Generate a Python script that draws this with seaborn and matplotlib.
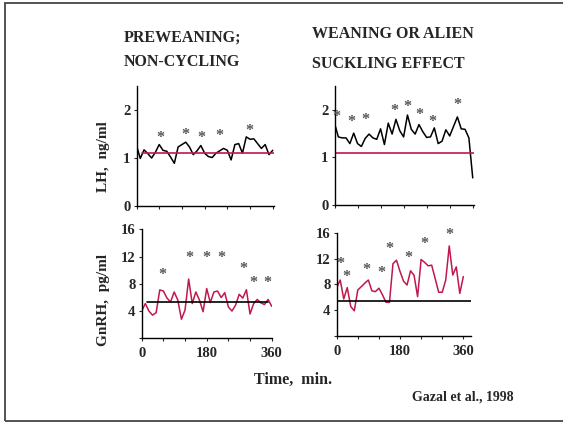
import matplotlib.pyplot as plt
import seaborn as sns
import numpy as np
import pandas as pd
from matplotlib.patches import Rectangle

# sampling times, min
time_min = np.arange(0, 370, 10)

# LH, ng/ml
lh_pre = [1.26, 0.99, 1.17, 1.09, 1.00, 1.12, 1.28, 1.16, 1.14, 1.02, 0.89, 1.23, 1.28,
          1.33, 1.23, 1.07, 1.15, 1.26, 1.10, 1.03, 1.01, 1.10, 1.15, 1.20, 1.16, 0.96,
          1.28, 1.30, 1.10, 1.44, 1.39, 1.40, 1.30, 1.20, 1.28, 1.07, 1.16]
lh_wean = [1.72, 1.43, 1.41, 1.41, 1.29, 1.51, 1.29, 1.23, 1.40, 1.49, 1.41, 1.38, 1.60,
           1.27, 1.72, 1.49, 1.80, 1.56, 1.43, 1.89, 1.59, 1.49, 1.69, 1.54, 1.42, 1.43,
           1.62, 1.29, 1.34, 1.58, 1.45, 1.65, 1.85, 1.60, 1.59, 1.41, 0.57]
# GnRH, pg/ml
gnrh_pre = [4.0, 5.1, 4.0, 3.4, 3.76, 7.1, 6.94, 5.9, 5.35, 6.8, 5.6, 2.8, 4.14, 8.7,
            5.1, 6.8, 5.6, 3.9, 7.3, 5.25, 6.8, 6.94, 5.98, 6.7, 4.6, 4.0, 4.87, 6.46,
            5.9, 7.13, 3.57, 5.1, 5.7, 5.2, 4.96, 5.7, 4.7]
gnrh_wean = [7.5, 8.67, 5.74, 7.5, 4.56, 3.9, 7.13, 7.64, 8.2, 8.67, 7.0, 6.87, 7.4, 6.4,
             5.23, 5.2, 11.2, 11.74, 10.0, 8.5, 7.9, 10.1, 9.4, 6.1, 11.85, 11.4, 10.87,
             10.97, 8.9, 6.77, 6.77, 8.67, 13.95, 9.44, 10.7, 6.6, 9.2]

# baseline (mean of control) lines: level, start, end
lh_base = 1.1
lh_base_span_pre = [15, 365]
lh_base_span_wean = [0, 362]
gnrh_base = 5.35
gnrh_base_span_pre = [16, 350]
gnrh_base_span_wean = [0, 381]

# significance asterisks (time, value)
star_lh_pre_t = [62, 130, 171, 220, 297]
star_lh_pre_v = [1.42, 1.47, 1.42, 1.45, 1.57]
star_lh_wean_t = [6, 44, 79, 155, 189, 220, 255, 319]
star_lh_wean_v = [1.85, 1.74, 1.79, 1.98, 2.05, 1.89, 1.75, 2.10]
star_gn_pre_t = [56, 132, 180, 220, 281, 310, 349]
star_gn_pre_v = [9.35, 11.76, 11.76, 11.76, 10.2, 8.14, 8.14]
star_gn_wean_t = [9, 27, 85, 126, 150, 204, 248, 320]
star_gn_wean_v = [11.08, 9.18, 10.2, 9.8, 13.4, 12.15, 14.3, 15.7]

RED = '#C0184C'
GREY = '#555555'

sns.set_style('ticks')
plt.rcParams['font.family'] = ['Liberation Serif', 'DejaVu Serif']
plt.rcParams['font.weight'] = 'bold'

fig = plt.figure(figsize=(5.63, 4.24), dpi=100)
W, H = 563.0, 424.0


def make_ax(x0, x1, y_bot, y_top):
    return fig.add_axes([x0 / W, 1 - y_bot / H, (x1 - x0) / W, (y_bot - y_top) / H])


ax_lh_pre = make_ax(136.5, 273.5, 206, 86)
ax_lh_wean = make_ax(334.5, 473.5, 205, 86)
ax_gn_pre = make_ax(141.7, 271.7, 338.3, 229.3)
ax_gn_wean = make_ax(336.7, 470.7, 336, 232.7)

panels = [
    (ax_lh_pre, lh_pre, 'black', lh_base, lh_base_span_pre, RED, star_lh_pre_t, star_lh_pre_v, (0, 2.5), [0, 1, 2], 362),
    (ax_lh_wean, lh_wean, 'black', lh_base, lh_base_span_wean, RED, star_lh_wean_t, star_lh_wean_v, (0, 2.5), [0, 1, 2], 362),
    (ax_gn_pre, gnrh_pre, RED, gnrh_base, gnrh_base_span_pre, 'black', star_gn_pre_t, star_gn_pre_v, (0, 16), [0, 4, 8, 12, 16], 360),
    (ax_gn_wean, gnrh_wean, RED, gnrh_base, gnrh_base_span_wean, 'black', star_gn_wean_t, star_gn_wean_v, (0, 16), [0, 4, 8, 12, 16], 381),
]

for ax, vals, col, base, span, base_col, st, sv, ylim, yt, xmax in panels:
    df = pd.DataFrame({'t': time_min, 'v': vals})
    sns.lineplot(data=df, x='t', y='v', color=col, lw=1.1, ax=ax)
    ax.plot(span, [base, base], color=base_col, lw=1.2)
    for t, v in zip(st, sv):
        ax.text(t, v, '*', color=GREY, fontsize=11.5, ha='center', va='center')
    ax.set_xlim(0, xmax)
    ax.set_ylim(*ylim)
    ax.set_xticks(np.arange(0, 361, 60))
    ax.set_yticks(yt)
    ax.set_xlabel('')
    ax.set_ylabel('')
    sns.despine(ax=ax)
    for s in ['left', 'bottom']:
        ax.spines[s].set_linewidth(1.0)
        ax.spines[s].set_color('black')
    ax.tick_params(direction='out', length=2.5, width=0.8, labelsize=10.5, pad=2)
    ax.set_facecolor('none')

for ax in (ax_lh_pre, ax_lh_wean):
    ax.set_xticklabels([])
    ax.set_yticklabels(['0', '1', '2'])

for ax in (ax_gn_pre, ax_gn_wean):
    ax.set_xticklabels(['0', '', '', '180', '', '', '360'])
    ax.set_yticklabels(['', '4', '8', '12', '16'])
    ax.tick_params(axis='x', pad=4)

fig.text(124 / W, 1 - 38 / H, 'PREWEANING;', fontsize=11.5, fontweight='bold', ha='left', va='center')
fig.text(124 / W, 1 - 61.5 / H, 'NON-CYCLING', fontsize=11.5, fontweight='bold', ha='left', va='center')
fig.text(312 / W, 1 - 34 / H, 'WEANING OR ALIEN', fontsize=11.5, fontweight='bold', ha='left', va='center')
fig.text(312 / W, 1 - 64 / H, 'SUCKLING EFFECT', fontsize=11.5, fontweight='bold', ha='left', va='center')

fig.text(103 / W, 1 - 157 / H, 'LH,  ng/ml', fontsize=11, fontweight='bold', rotation=90, ha='center', va='center')
fig.text(103 / W, 1 - 300 / H, 'GnRH,  pg/ml', fontsize=11, fontweight='bold', rotation=90, ha='center', va='center')
fig.text(293 / W, 1 - 380 / H, 'Time,  min.', fontsize=11.5, fontweight='bold', ha='center', va='center')
fig.text(463 / W, 1 - 397 / H, 'Gazal et al., 1998', fontsize=10, fontweight='bold', ha='center', va='center')

# outer frame (open on the right, as in the slide)
fig.patches.append(Rectangle((5 / W, 1 - 421 / H), 620 / W, 418 / H, transform=fig.transFigure,
                             fill=False, edgecolor='#444444', lw=1.3, clip_on=False))

plt.savefig('out.png', dpi=100)
